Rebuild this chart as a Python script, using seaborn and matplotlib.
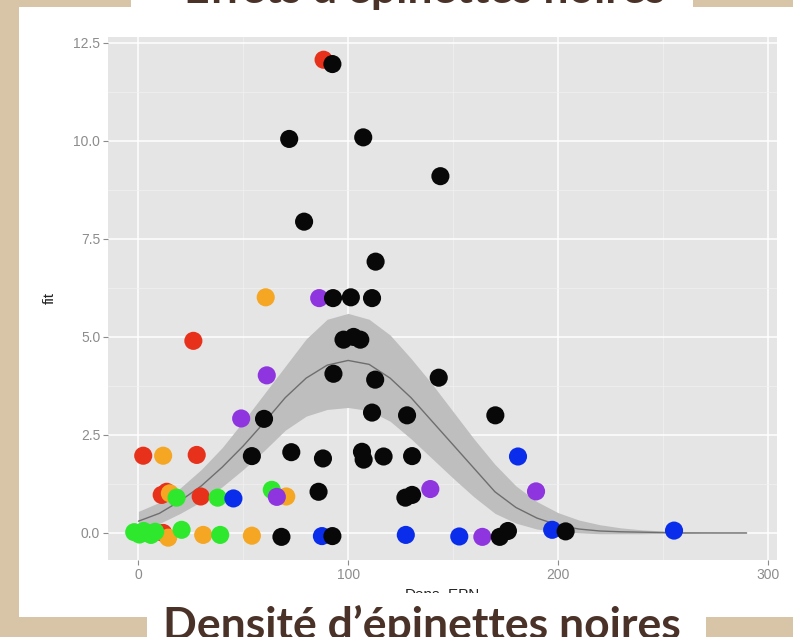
import matplotlib
matplotlib.use("Agg")
import matplotlib.pyplot as plt
import numpy as np
import pandas as pd
import seaborn as sns
from matplotlib.patches import Rectangle
from matplotlib.ticker import MultipleLocator

# points, one pair of lists per colour group
red_x = [88.3, 26.2, 2.3, 27.8, 11.1, 13.5, 29.7, 11.8]
red_y = [12.07, 4.90, 1.97, 1.99, 0.97, 1.05, 0.93, 0.0]
orange_x = [60.7, 11.8, 15.0, 70.5, 14.2, 30.9, 54.1]
orange_y = [6.01, 1.97, 1.01, 0.93, -0.12, -0.05, -0.07]
green_x = [18.2, 37.8, 63.6, -2.0, 0.5, 2.5, 4.0, 6.0, 8.0, 20.6, 39.0]
green_y = [0.90, 0.90, 1.10, 0.02, -0.04, 0.05, 0.0, -0.05, 0.03, 0.08, -0.05]
blue_x = [45.3, 87.5, 127.5, 153.0, 181.0, 197.3, 255.4]
blue_y = [0.88, -0.08, -0.05, -0.09, 1.95, 0.08, 0.06]
purple_x = [86.2, 61.2, 49.0, 66.0, 139.2, 189.6, 164.0]
purple_y = [5.99, 4.02, 2.92, 0.92, 1.12, 1.06, -0.10]
black_x = [92.5, 71.9, 107.2, 144.0, 79.0, 113.1, 92.8, 101.3, 111.4, 97.8,
           102.6, 105.8, 93.0, 112.9, 143.2, 59.9, 111.4, 128.1, 170.2, 54.1,
           72.9, 88.0, 106.6, 107.4, 116.9, 130.5, 85.9, 127.3, 130.5, 68.2,
           92.5, 172.3, 176.2, 203.7]
black_y = [11.96, 10.05, 10.09, 9.10, 7.94, 6.92, 5.99, 6.01, 5.99, 4.93,
           5.00, 4.93, 4.06, 3.91, 3.96, 2.91, 3.07, 3.00, 3.00, 1.96,
           2.06, 1.90, 2.07, 1.87, 1.95, 1.96, 1.05, 0.90, 0.97, -0.10,
           -0.08, -0.10, 0.05, 0.04]

# fitted curve and its band, read every 10 units
curve_x = [0, 10, 20, 30, 40, 50, 60, 70, 80, 90, 100, 110, 120, 130, 140,
           150, 160, 170, 180, 190, 200, 210, 220, 230, 240, 250, 260, 270, 280, 290]
curve_fit = [0.30, 0.50, 0.82, 1.20, 1.68, 2.22, 2.82, 3.45, 3.95, 4.28, 4.40,
             4.30, 3.95, 3.45, 2.85, 2.25, 1.65, 1.05, 0.65, 0.38, 0.20, 0.10,
             0.05, 0.03, 0.02, 0.01, 0.0, 0.0, 0.0, 0.0]
curve_hi = [0.55, 0.78, 1.15, 1.62, 2.18, 2.85, 3.55, 4.25, 4.95, 5.45, 5.60,
            5.45, 5.05, 4.45, 3.80, 3.10, 2.40, 1.75, 1.20, 0.80, 0.52, 0.33,
            0.21, 0.13, 0.08, 0.05, 0.03, 0.02, 0.01, 0.01]
curve_lo = [0.08, 0.24, 0.50, 0.80, 1.18, 1.62, 2.10, 2.62, 2.98, 3.15, 3.20,
            3.12, 2.85, 2.40, 1.90, 1.40, 0.92, 0.50, 0.25, 0.10, 0.03, 0.0,
            -0.02, -0.02, -0.02, -0.01, -0.01, 0.0, 0.0, 0.0]

groups = ["red", "orange", "green", "blue", "purple", "black"]
palette = {"red": "#E8311A", "orange": "#F5A623", "green": "#2EE82E",
           "blue": "#0A2DEB", "purple": "#8F35E0", "black": "#080808"}

xs = [red_x, orange_x, green_x, blue_x, purple_x, black_x]
ys = [red_y, orange_y, green_y, blue_y, purple_y, black_y]
df = pd.concat([pd.DataFrame({"dens": x, "fit": y, "grp": g})
                for g, x, y in zip(groups, xs, ys)], ignore_index=True)

sns.set_theme(style="darkgrid", rc={
    "axes.facecolor": "#E5E5E5",
    "grid.color": "white",
    "grid.linewidth": 1.1,
    "axes.edgecolor": "#E5E5E5",
})
plt.rcParams["font.family"] = ["Liberation Sans", "DejaVu Sans"]

fig = plt.figure(figsize=(7.93, 6.37), dpi=100)
fig.patch.set_facecolor("white")
ax = fig.add_axes([108 / 793, 1 - 560 / 637, 669 / 793, 523 / 637])

ax.fill_between(curve_x, curve_lo, curve_hi, color="#BEBEBE", lw=0, zorder=2)
ax.plot(curve_x, curve_fit, color="#6E6E6E", lw=1.0, zorder=3)
sns.scatterplot(data=df, x="dens", y="fit", hue="grp", palette=palette,
                s=170, linewidth=0, legend=False, ax=ax, zorder=4)

ax.set_xlim(-14.5, 304.5)
ax.set_ylim(-0.69, 12.65)
ax.xaxis.set_major_locator(MultipleLocator(100))
ax.xaxis.set_minor_locator(MultipleLocator(50))
ax.yaxis.set_major_locator(MultipleLocator(2.5))
ax.yaxis.set_minor_locator(MultipleLocator(1.25))
ax.yaxis.set_major_formatter(matplotlib.ticker.FormatStrFormatter("%.1f"))
ax.grid(which="minor", color="#F1F1F1", lw=0.5)
ax.grid(which="major", color="white", lw=1.1)
ax.set_axisbelow(True)
for s in ax.spines.values():
    s.set_visible(False)
ax.tick_params(which="major", length=3.6, width=0.8, color="#8C8C8C",
               labelcolor="#8C8C8C", labelsize=10, pad=2,
               bottom=True, left=True)
ax.tick_params(which="minor", length=0)

ax.set_xlabel("Dens_EPN", fontsize=11, color="#222222")
ax.xaxis.set_label_coords(0.5, -0.052)
ax.set_ylabel("fit", fontsize=11, color="#222222")
ax.yaxis.set_label_coords(-0.076, 0.5)

# slide frame around the chart picture
beige = "#D8C4A6"
W, H = 793, 637
def px_rect(x0, y0, x1, y1, color, z):
    fig.add_artist(Rectangle((x0 / W, 1 - y1 / H), (x1 - x0) / W, (y1 - y0) / H,
                             transform=fig.transFigure, color=color, lw=0, zorder=z))

px_rect(20, 593, 793, 637, "white", 10)
px_rect(0, 0, 19, 637, beige, 11)
px_rect(0, 0, 131, 7, beige, 11)
px_rect(693, 0, 793, 7, beige, 11)
px_rect(0, 617, 147, 637, beige, 11)
px_rect(706, 617, 793, 637, beige, 11)

title_font = dict(ha="center", va="baseline", fontsize=32, fontweight="bold",
                  family=["Lato", "DejaVu Sans"], color="#4A3228", zorder=12)
fig.text(425 / W, 1 - 3 / H, "Effets d’épinettes noires", **title_font)
fig.text(422 / W, -2 / H, "Densité d’épinettes noires", **title_font)

fig.savefig("out.png", dpi=100)
